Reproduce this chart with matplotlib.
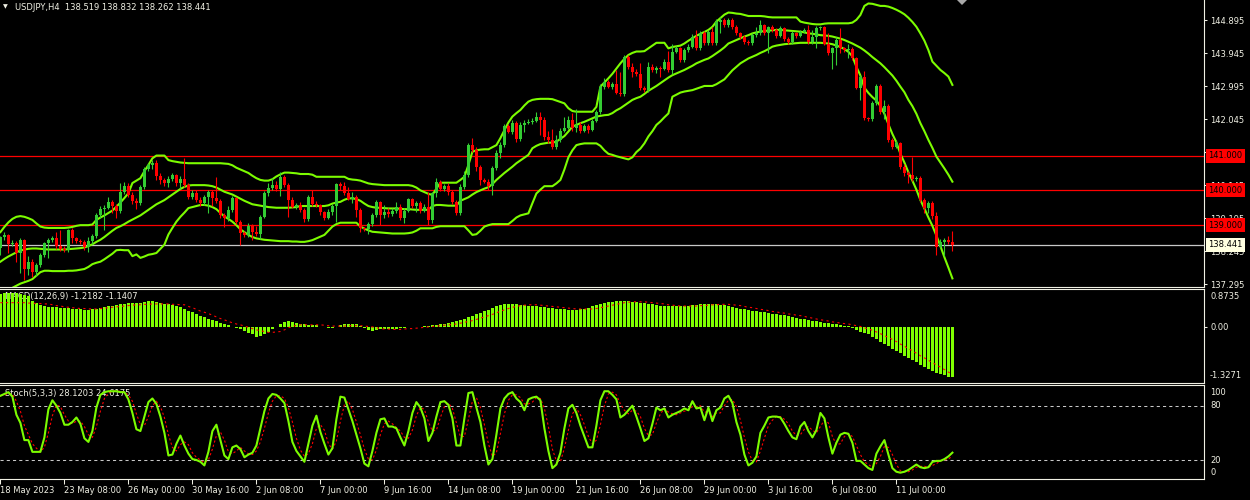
import numpy as np
import matplotlib
matplotlib.use('Agg')
import matplotlib.pyplot as plt
from matplotlib.patches import Polygon
from matplotlib.transforms import blended_transform_factory

plt.rcParams['font.family'] = ['DejaVu Sans']
plt.rcParams['font.size'] = 6

# ---- data -------------------------------------------------------------
title = 'USDJPY,H4  138.519 138.832 138.262 138.441'
macd_title = 'MACD(12,26,9) -1.2182 -1.1407'
stoch_title = 'Stoch(5,3,3) 28.1203 24.6175'

first_open = 138.35
close = [
    138.65, 138.72, 138.45, 138.50, 138.20, 138.58, 137.75, 137.95, 137.65, 137.85,
    138.14, 138.48, 138.58, 138.62, 138.40, 138.32, 138.28, 138.85, 138.62, 138.55,
    138.52, 138.38, 138.55, 138.70, 139.30, 139.46, 139.50, 139.66, 139.55, 139.40,
    139.95, 140.12, 139.88, 139.70, 139.64, 140.10, 140.62, 140.72, 140.78, 140.40,
    140.30, 140.20, 140.34, 140.44, 140.22, 140.34, 140.15, 139.82, 139.93, 139.72,
    139.63, 139.80, 139.96, 139.77, 139.70, 139.29, 139.20, 139.43, 139.77, 139.10,
    138.77, 138.72, 138.97, 138.81, 138.75, 139.24, 139.91, 140.06, 140.15, 140.05,
    140.39, 140.15, 139.72, 139.53, 139.58, 139.44, 139.18, 139.80, 139.62, 139.58,
    139.37, 139.22, 139.37, 139.55, 140.18, 140.12, 139.91, 139.74, 139.82, 139.44,
    138.91, 138.88, 139.03, 139.29, 139.67, 139.29, 139.39, 139.32, 139.42, 139.53,
    139.20, 139.42, 139.74, 139.55, 139.65, 139.42, 139.53, 139.15, 139.91, 140.25,
    140.03, 140.12, 139.96, 139.67, 139.34, 140.11, 140.44, 141.30, 141.16, 140.66,
    140.30, 140.25, 140.12, 140.63, 141.06, 141.30, 141.86, 141.69, 141.94, 141.47,
    141.88, 141.94, 141.97, 142.00, 142.12, 142.02, 141.54, 141.45, 141.26, 141.45,
    141.72, 141.80, 142.02, 141.78, 141.88, 141.72, 141.85, 141.74, 142.00, 142.26,
    142.98, 143.12, 142.96, 143.05, 142.81, 142.76, 143.84, 143.55, 143.41, 143.34,
    142.93, 142.88, 143.55, 143.46, 143.51, 143.50, 143.70, 143.46, 143.99, 144.08,
    143.75, 144.03, 144.13, 144.42, 144.08, 144.53, 144.23, 144.56, 144.23, 144.85,
    144.90, 144.75, 144.90, 144.70, 144.51, 144.42, 144.27, 144.23, 144.46, 144.51,
    144.75, 144.51, 144.68, 144.61, 144.44, 144.66, 144.34, 144.27, 144.51, 144.44,
    144.56, 144.60, 144.27, 144.42, 144.66, 144.68, 144.22, 143.94, 144.08, 144.32,
    144.08, 144.03, 144.06, 143.79, 142.93, 143.27, 142.07, 142.04, 142.50, 143.00,
    142.26, 142.42, 141.45, 141.26, 141.35, 140.68, 140.49, 140.44, 140.32, 140.36,
    139.72, 139.48, 139.63, 139.26, 138.38, 138.53, 138.57, 138.519, 138.441,
]
high = [
    138.70, 138.80, 138.76, 138.56, 138.55, 138.63, 138.60, 138.10, 138.02, 137.90,
    138.20, 138.52, 138.62, 138.68, 138.81, 138.86, 138.40, 138.90, 138.92, 138.66,
    138.60, 138.57, 138.66, 138.75, 139.35, 139.55, 139.58, 139.80, 139.72, 139.62,
    140.20, 140.25, 140.20, 139.95, 139.78, 140.15, 140.68, 140.80, 140.86, 140.88,
    140.50, 140.36, 140.40, 140.50, 140.48, 140.40, 140.92, 140.22, 140.00, 140.02,
    139.80, 139.88, 140.02, 140.01, 140.39, 139.75, 139.35, 139.55, 139.84, 139.82,
    139.15, 138.82, 139.05, 139.02, 138.98, 139.30, 139.98, 140.20, 140.35, 140.28,
    140.52, 140.45, 140.20, 139.80, 139.64, 139.66, 139.50, 139.88, 140.01, 139.68,
    139.62, 139.42, 139.45, 139.62, 140.20, 140.25, 140.25, 140.10, 139.96, 139.87,
    139.48, 138.96, 139.08, 139.35, 139.72, 139.70, 139.58, 139.48, 139.50, 139.67,
    139.62, 139.48, 139.77, 139.77, 139.68, 139.70, 139.62, 139.96, 139.96, 140.35,
    140.30, 140.18, 140.20, 140.00, 139.72, 140.18, 140.55, 141.36, 141.50, 141.25,
    140.72, 140.35, 140.32, 140.70, 141.15, 141.38, 141.92, 141.92, 142.02, 142.00,
    141.95, 142.02, 142.05, 142.08, 142.26, 142.26, 142.12, 141.72, 141.75, 141.60,
    141.78, 142.10, 142.15, 142.22, 142.35, 141.95, 141.92, 141.90, 142.06, 142.32,
    143.05, 143.22, 143.18, 143.12, 143.45, 143.41, 143.90, 143.88, 143.65, 143.48,
    143.65, 143.00, 143.70, 143.62, 143.58, 143.56, 143.78, 144.00, 144.20, 144.15,
    144.12, 144.10, 144.20, 144.50, 144.62, 144.58, 144.58, 144.62, 144.70, 144.92,
    144.98, 144.95, 144.96, 144.96, 144.74, 144.56, 144.46, 144.32, 144.52, 144.70,
    144.90, 144.78, 144.72, 144.75, 144.66, 144.72, 144.70, 144.40, 144.58, 144.56,
    144.62, 144.66, 144.75, 144.60, 144.72, 144.72, 144.72, 144.51, 144.12, 144.40,
    144.66, 144.12, 144.22, 144.12, 143.84, 143.32, 143.42, 142.12, 142.58, 143.05,
    143.05, 142.60, 142.48, 141.50, 141.45, 141.40, 140.75, 140.55, 140.97, 140.42,
    140.40, 139.78, 139.68, 139.70, 139.38, 138.60, 138.64, 138.69, 138.832,
]
low = [
    138.14, 138.58, 138.19, 138.40, 137.95, 137.62, 137.42, 137.58, 137.50, 137.55,
    137.80, 138.08, 138.06, 138.52, 138.32, 138.26, 138.22, 138.24, 138.50, 138.48,
    138.47, 138.30, 138.22, 138.45, 138.62, 139.20, 138.86, 139.45, 139.35, 139.20,
    139.35, 139.90, 139.82, 139.62, 139.45, 139.58, 140.05, 140.55, 140.62, 140.30,
    140.18, 140.12, 140.10, 140.28, 140.12, 140.05, 140.10, 139.76, 139.75, 139.66,
    139.55, 139.58, 139.34, 139.55, 139.65, 139.20, 138.96, 139.12, 139.38, 139.02,
    138.43, 138.65, 138.66, 138.57, 138.70, 138.60, 139.20, 139.85, 140.00, 139.98,
    139.85, 140.10, 139.24, 139.48, 139.45, 139.38, 139.08, 139.12, 139.55, 139.52,
    139.30, 139.15, 139.18, 139.30, 139.10, 140.01, 139.87, 139.72, 139.63, 139.24,
    138.81, 138.82, 138.76, 138.98, 139.24, 139.00, 139.20, 139.24, 139.26, 139.34,
    139.16, 139.05, 139.38, 139.48, 139.39, 139.34, 139.38, 139.00, 139.05, 139.82,
    139.98, 139.98, 139.87, 139.60, 139.29, 139.30, 140.05, 140.38, 141.10, 140.55,
    140.15, 140.20, 140.01, 139.88, 140.58, 140.92, 141.25, 141.64, 141.62, 141.40,
    141.42, 141.68, 141.90, 141.92, 141.95, 141.59, 141.45, 141.35, 141.20, 141.20,
    141.40, 141.68, 141.75, 141.72, 141.68, 141.66, 141.68, 141.66, 141.70, 141.96,
    142.20, 142.92, 142.93, 142.90, 142.76, 142.70, 142.70, 143.48, 143.26, 143.28,
    142.88, 142.82, 142.84, 143.40, 143.38, 143.26, 143.45, 143.40, 143.34, 143.94,
    143.68, 143.70, 143.98, 144.08, 144.02, 144.02, 144.18, 144.18, 144.18, 144.18,
    144.51, 144.70, 144.70, 144.64, 144.45, 144.36, 144.20, 144.17, 144.18, 144.42,
    144.46, 144.45, 143.94, 144.55, 144.38, 144.40, 144.28, 144.20, 144.22, 144.38,
    144.40, 144.52, 144.22, 144.22, 144.08, 144.60, 144.18, 143.90, 143.50, 143.60,
    143.94, 143.98, 143.80, 143.74, 142.90, 142.60, 142.02, 141.98, 142.00, 142.45,
    142.20, 142.05, 141.40, 141.20, 141.22, 140.62, 140.40, 140.20, 140.26, 140.28,
    139.66, 139.35, 139.34, 139.18, 138.14, 138.34, 138.10, 138.46, 138.262,
]

bb_upper = [
    138.80, 138.95, 139.08, 139.18, 139.24, 139.26, 139.24, 139.20, 139.15, 139.05,
    138.96, 138.93, 138.92, 138.92, 138.92, 138.92, 138.92, 138.93, 138.95, 138.98,
    139.00, 139.00, 139.00, 139.02, 139.15, 139.22, 139.28, 139.35, 139.42, 139.53,
    139.65, 139.78, 139.92, 140.21, 140.28, 140.35, 140.55, 140.73, 140.92, 141.00,
    141.00, 141.00, 140.87, 140.84, 140.82, 140.80, 140.79, 140.78, 140.78, 140.78,
    140.78, 140.78, 140.78, 140.78, 140.78, 140.78, 140.77, 140.76, 140.72, 140.65,
    140.60, 140.55, 140.50, 140.42, 140.35, 140.30, 140.28, 140.28, 140.32, 140.40,
    140.46, 140.51, 140.51, 140.50, 140.49, 140.47, 140.47, 140.47, 140.45, 140.39,
    140.39, 140.39, 140.39, 140.39, 140.39, 140.39, 140.39, 140.33, 140.31, 140.30,
    140.28, 140.24, 140.20, 140.18, 140.17, 140.16, 140.15, 140.15, 140.15, 140.15,
    140.15, 140.15, 140.15, 140.13, 140.08, 140.00, 139.95, 139.90, 139.87, 140.05,
    140.22, 140.22, 140.22, 140.22, 140.22, 140.30, 140.39, 140.73, 141.11, 141.15,
    141.17, 141.18, 141.18, 141.24, 141.30, 141.50, 141.73, 141.95, 142.12, 142.22,
    142.31, 142.44, 142.55, 142.60, 142.62, 142.63, 142.63, 142.63, 142.62, 142.58,
    142.54, 142.50, 142.36, 142.28, 142.26, 142.26, 142.26, 142.26, 142.26, 142.40,
    142.98, 143.10, 143.22, 143.35, 143.50, 143.65, 143.78, 143.89, 143.95, 143.99,
    143.99, 144.00, 144.08, 144.16, 144.24, 144.24, 144.24, 144.08, 144.12, 144.14,
    144.16, 144.22, 144.30, 144.37, 144.44, 144.50, 144.55, 144.61, 144.70, 144.85,
    144.95, 145.05, 145.11, 145.10, 145.08, 145.07, 145.04, 145.01, 145.01, 145.01,
    145.01, 145.00, 144.98, 144.97, 144.97, 144.97, 144.97, 144.97, 144.97, 144.97,
    144.85, 144.82, 144.80, 144.78, 144.77, 144.77, 144.79, 144.80, 144.80, 144.80,
    144.80, 144.80, 144.80, 144.82, 144.90, 145.04, 145.30, 145.37, 145.36, 145.33,
    145.30, 145.30, 145.28, 145.24, 145.19, 145.13, 145.06, 144.96, 144.84, 144.70,
    144.51, 144.30, 144.03, 143.70, 143.58, 143.46, 143.37, 143.27, 143.03,
]
bb_mid = [
    137.95, 138.03, 138.10, 138.16, 138.22, 138.27, 138.30, 138.32, 138.33, 138.33,
    138.32, 138.31, 138.30, 138.30, 138.30, 138.30, 138.30, 138.31, 138.32, 138.33,
    138.34, 138.36, 138.40, 138.45, 138.52, 138.58, 138.66, 138.75, 138.84, 138.92,
    138.97, 139.03, 139.10, 139.16, 139.22, 139.28, 139.36, 139.44, 139.52, 139.60,
    139.66, 139.72, 139.80, 139.88, 139.96, 140.04, 140.10, 140.14, 140.15, 140.15,
    140.15, 140.15, 140.14, 140.12, 140.08, 140.02, 139.96, 139.92, 139.88, 139.82,
    139.76, 139.70, 139.65, 139.60, 139.58, 139.56, 139.54, 139.52, 139.51, 139.50,
    139.50, 139.50, 139.50, 139.51, 139.52, 139.55, 139.55, 139.55, 139.55, 139.55,
    139.55, 139.55, 139.57, 139.62, 139.65, 139.67, 139.73, 139.77, 139.77, 139.75,
    139.70, 139.62, 139.55, 139.52, 139.50, 139.50, 139.49, 139.48, 139.48, 139.48,
    139.47, 139.46, 139.46, 139.45, 139.44, 139.44, 139.44, 139.44, 139.55, 139.58,
    139.58, 139.57, 139.56, 139.56, 139.56, 139.70, 139.75, 139.80, 139.88, 139.95,
    140.00, 140.05, 140.09, 140.18, 140.30, 140.40, 140.50, 140.59, 140.68, 140.78,
    140.86, 140.94, 141.02, 141.21, 141.28, 141.33, 141.35, 141.37, 141.37, 141.40,
    141.48, 141.56, 141.69, 141.83, 141.88, 141.93, 141.97, 142.02, 142.07, 142.12,
    142.14, 142.16, 142.17, 142.22, 142.30, 142.36, 142.44, 142.52, 142.60, 142.65,
    142.69, 142.77, 142.86, 142.93, 143.00, 143.08, 143.16, 143.24, 143.31, 143.36,
    143.41, 143.46, 143.52, 143.58, 143.65, 143.70, 143.75, 143.79, 143.86, 143.94,
    144.02, 144.11, 144.22, 144.27, 144.32, 144.37, 144.42, 144.46, 144.51, 144.54,
    144.56, 144.58, 144.59, 144.60, 144.61, 144.61, 144.60, 144.59, 144.58, 144.57,
    144.56, 144.54, 144.51, 144.50, 144.48, 144.46, 144.45, 144.44, 144.42, 144.39,
    144.36, 144.32, 144.27, 144.22, 144.16, 144.10, 144.02, 143.93, 143.83, 143.74,
    143.65, 143.54, 143.42, 143.30, 143.15, 142.98, 142.82, 142.60, 142.42, 142.20,
    141.93, 141.70, 141.45, 141.22, 140.97, 140.80, 140.63, 140.45, 140.25,
]
bb_lower = [
    137.10, 137.12, 137.15, 137.20, 137.26, 137.32, 137.36, 137.40, 137.45, 137.55,
    137.65, 137.69, 137.69, 137.68, 137.68, 137.68, 137.68, 137.69, 137.69, 137.70,
    137.72, 137.74, 137.80, 137.88, 137.92, 137.95, 138.02, 138.10, 138.18, 138.28,
    138.29, 138.28, 138.28, 138.11, 138.16, 138.06, 138.10, 138.15, 138.17, 138.20,
    138.32, 138.44, 138.73, 138.92, 139.10, 139.24, 139.36, 139.49, 139.52, 139.55,
    139.58, 139.58, 139.56, 139.52, 139.46, 139.35, 139.25, 139.18, 139.10, 139.00,
    138.88, 138.80, 138.72, 138.66, 138.62, 138.60, 138.58, 138.57, 138.56, 138.55,
    138.54, 138.54, 138.54, 138.53, 138.53, 138.52, 138.52, 138.54, 138.57, 138.62,
    138.67, 138.72, 138.84, 138.96, 139.03, 139.07, 139.07, 139.07, 139.07, 139.07,
    138.96, 138.90, 138.85, 138.81, 138.80, 138.79, 138.78, 138.77, 138.76, 138.76,
    138.76, 138.76, 138.77, 138.79, 138.84, 138.91, 138.91, 138.91, 138.91, 138.95,
    138.97, 138.97, 138.97, 138.97, 138.97, 138.97, 138.97, 138.85, 138.72, 138.74,
    138.84, 138.96, 139.00, 139.03, 139.03, 139.03, 139.03, 139.03, 139.12, 139.22,
    139.28, 139.31, 139.34, 139.63, 139.91, 140.02, 140.12, 140.12, 140.12, 140.20,
    140.30, 140.60, 140.95, 141.15, 141.30, 141.33, 141.35, 141.35, 141.35, 141.35,
    141.28, 141.15, 141.05, 141.02, 140.98, 140.95, 140.92, 140.89, 140.95, 141.10,
    141.20, 141.35, 141.55, 141.70, 141.88, 141.98, 142.10, 142.21, 142.69, 142.75,
    142.81, 142.84, 142.86, 142.88, 142.92, 142.96, 143.00, 143.00, 143.00, 143.05,
    143.12, 143.19, 143.32, 143.45, 143.55, 143.65, 143.72, 143.79, 143.84, 143.89,
    143.95, 144.00, 144.06, 144.13, 144.16, 144.18, 144.20, 144.21, 144.22, 144.23,
    144.24, 144.24, 144.24, 144.24, 144.24, 144.24, 144.23, 144.22, 144.20, 144.16,
    144.12, 144.06, 143.98, 143.85, 143.55, 143.30, 142.95, 142.80, 142.68, 142.58,
    142.42, 142.20, 141.90, 141.62, 141.38, 141.05, 140.80, 140.52, 140.28, 140.02,
    139.72, 139.48, 139.22, 138.98, 138.70, 138.40, 138.08, 137.78, 137.47,
]

macd_hist = [
    0.78, 0.80, 0.80, 0.80, 0.79, 0.78, 0.76, 0.74, 0.62, 0.57,
    0.52, 0.48, 0.46, 0.46, 0.46, 0.45, 0.45, 0.44, 0.43, 0.42,
    0.41, 0.40, 0.40, 0.41, 0.42, 0.44, 0.46, 0.48, 0.50, 0.52,
    0.54, 0.55, 0.56, 0.56, 0.56, 0.57, 0.58, 0.60, 0.60, 0.59,
    0.57, 0.55, 0.53, 0.52, 0.50, 0.47, 0.42, 0.38, 0.34, 0.30,
    0.26, 0.23, 0.19, 0.16, 0.12, 0.08, 0.06, 0.03, -0.01, -0.04,
    -0.06, -0.10, -0.15, -0.19, -0.24, -0.22, -0.17, -0.12, -0.06, 0.00,
    0.06, 0.10, 0.12, 0.10, 0.08, 0.06, 0.05, 0.04, 0.04, 0.03,
    -0.01, -0.02, -0.03, -0.03, -0.02, 0.03, 0.06, 0.07, 0.07, 0.05,
    0.01, -0.04, -0.08, -0.10, -0.09, -0.07, -0.06, -0.06, -0.05, -0.05,
    -0.04, -0.03, -0.02, -0.01, -0.01, 0.00, 0.01, 0.02, 0.03, 0.04,
    0.05, 0.06, 0.08, 0.10, 0.12, 0.15, 0.18, 0.22, 0.26, 0.30,
    0.33, 0.36, 0.40, 0.44, 0.48, 0.51, 0.53, 0.54, 0.54, 0.53,
    0.52, 0.51, 0.50, 0.49, 0.48, 0.47, 0.46, 0.45, 0.44, 0.43,
    0.42, 0.41, 0.40, 0.40, 0.40, 0.41, 0.43, 0.45, 0.48, 0.51,
    0.54, 0.56, 0.58, 0.59, 0.60, 0.61, 0.61, 0.60, 0.59, 0.58,
    0.57, 0.56, 0.54, 0.53, 0.51, 0.50, 0.49, 0.48, 0.48, 0.48,
    0.48, 0.49, 0.50, 0.51, 0.52, 0.53, 0.54, 0.54, 0.54, 0.53,
    0.52, 0.51, 0.49, 0.47, 0.45, 0.43, 0.41, 0.40, 0.38, 0.37,
    0.35, 0.34, 0.32, 0.31, 0.30, 0.28, 0.27, 0.25, 0.23, 0.21,
    0.19, 0.17, 0.15, 0.13, 0.12, 0.10, 0.09, 0.08, 0.06, 0.05,
    0.04, 0.02, 0.01, -0.03, -0.08, -0.12, -0.16, -0.19, -0.24, -0.30,
    -0.36, -0.42, -0.47, -0.53, -0.58, -0.64, -0.70, -0.76, -0.81, -0.86,
    -0.92, -0.97, -1.02, -1.06, -1.10, -1.14, -1.17, -1.20, -1.2182,
]
macd_signal = [
    0.57, 0.57, 0.57, 0.57, 0.57, 0.57, 0.57, 0.56, 0.56, 0.55,
    0.55, 0.54, 0.54, 0.52, 0.50, 0.49, 0.47, 0.46, 0.45, 0.44,
    0.43, 0.43, 0.42, 0.42, 0.42, 0.43, 0.44, 0.45, 0.46, 0.47,
    0.48, 0.49, 0.50, 0.51, 0.52, 0.52, 0.53, 0.53, 0.54, 0.54,
    0.54, 0.54, 0.54, 0.53, 0.53, 0.52, 0.52, 0.48, 0.45, 0.41,
    0.37, 0.34, 0.31, 0.27, 0.23, 0.19, 0.16, 0.12, 0.09, 0.06,
    0.04, 0.01, -0.02, -0.05, -0.08, -0.10, -0.12, -0.14, -0.14, -0.13,
    -0.12, -0.08, -0.03, 0.00, 0.03, 0.04, 0.04, 0.04, 0.04, 0.04,
    0.04, 0.03, 0.02, 0.01, 0.01, 0.01, 0.01, 0.02, 0.02, 0.02,
    0.02, 0.01, 0.00, -0.01, -0.03, -0.05, -0.06, -0.06, -0.07, -0.07,
    -0.07, -0.06, -0.05, -0.05, -0.04, -0.03, -0.02, -0.01, 0.00, 0.01,
    0.02, 0.03, 0.04, 0.05, 0.06, 0.08, 0.10, 0.12, 0.14, 0.17,
    0.20, 0.23, 0.26, 0.29, 0.33, 0.36, 0.40, 0.43, 0.46, 0.48,
    0.50, 0.51, 0.52, 0.52, 0.52, 0.51, 0.50, 0.49, 0.48, 0.47,
    0.46, 0.45, 0.44, 0.43, 0.42, 0.42, 0.42, 0.42, 0.42, 0.43,
    0.45, 0.47, 0.49, 0.51, 0.53, 0.55, 0.57, 0.58, 0.59, 0.59,
    0.59, 0.59, 0.58, 0.57, 0.56, 0.55, 0.54, 0.52, 0.51, 0.50,
    0.49, 0.49, 0.49, 0.49, 0.49, 0.50, 0.50, 0.51, 0.52, 0.52,
    0.53, 0.53, 0.53, 0.52, 0.51, 0.50, 0.48, 0.46, 0.45, 0.43,
    0.41, 0.40, 0.38, 0.36, 0.35, 0.33, 0.32, 0.30, 0.29, 0.27,
    0.26, 0.24, 0.22, 0.20, 0.18, 0.16, 0.15, 0.13, 0.11, 0.10,
    0.08, 0.07, 0.06, 0.04, 0.02, 0.00, -0.03, -0.06, -0.09, -0.13,
    -0.17, -0.22, -0.26, -0.31, -0.36, -0.42, -0.47, -0.53, -0.58, -0.64,
    -0.70, -0.75, -0.81, -0.86, -0.92, -0.97, -1.03, -1.09, -1.1407,
]

stoch_k = [
    91, 93, 95, 90, 70, 61, 42, 42, 29, 29,
    29, 45, 76, 86, 80, 72, 59, 59, 62, 67,
    60, 44, 40, 52, 78, 92, 95, 96, 96, 96,
    95, 95, 87, 72, 54, 52, 68, 84, 88, 82,
    68, 50, 25, 26, 38, 47, 36, 27, 21, 20,
    18, 14, 29, 52, 59, 42, 25, 21, 34, 36,
    32, 23, 26, 28, 36, 55, 74, 88, 93, 92,
    88, 83, 63, 40, 30, 24, 18, 38, 58, 69,
    51, 38, 26, 33, 65, 90, 89, 76, 63, 48,
    33, 16, 13, 30, 50, 65, 66, 57, 57, 55,
    45, 36, 52, 72, 84, 78, 66, 41, 50, 68,
    84, 85, 81, 66, 36, 36, 66, 94, 95, 78,
    62, 36, 15, 21, 48, 77, 88, 93, 95, 88,
    84, 75, 87, 89, 90, 86, 55, 30, 11, 15,
    28, 55, 77, 81, 72, 58, 46, 34, 34, 58,
    86, 96, 96, 92, 87, 67, 70, 75, 80, 68,
    55, 41, 44, 60, 78, 75, 77, 67, 70, 72,
    74, 77, 75, 85, 77, 78, 64, 78, 63, 75,
    78, 88, 91, 83, 62, 48, 26, 14, 17, 24,
    50, 58, 67, 68, 68, 67, 60, 52, 45, 43,
    57, 62, 52, 45, 53, 72, 66, 45, 27, 39,
    48, 50, 49, 39, 19, 19, 15, 11, 9, 27,
    35, 42, 26, 11, 7, 6, 7, 9, 12, 15,
    12, 11, 12, 18, 19, 19, 21, 24, 28.12,
]
stoch_d = [
    91, 92, 93, 93, 85, 74, 58, 48, 38, 33,
    29, 34, 50, 69, 81, 79, 70, 63, 60, 63,
    63, 57, 48, 45, 57, 74, 88, 94, 96, 96,
    96, 95, 92, 85, 71, 59, 58, 68, 80, 85,
    79, 67, 48, 34, 30, 37, 40, 37, 28, 23,
    20, 17, 20, 32, 47, 51, 42, 29, 27, 30,
    34, 30, 27, 26, 30, 40, 55, 72, 85, 91,
    91, 88, 78, 62, 44, 31, 24, 27, 38, 55,
    59, 53, 38, 32, 41, 63, 81, 85, 76, 62,
    48, 32, 21, 20, 31, 48, 60, 63, 60, 56,
    52, 45, 44, 53, 69, 78, 76, 62, 52, 53,
    67, 79, 83, 77, 61, 46, 46, 65, 85, 89,
    78, 59, 38, 24, 28, 49, 71, 86, 92, 92,
    89, 82, 82, 84, 89, 88, 77, 57, 32, 19,
    18, 33, 53, 71, 77, 70, 59, 46, 38, 42,
    59, 80, 93, 95, 92, 82, 75, 71, 75, 74,
    68, 55, 47, 48, 61, 71, 77, 73, 71, 70,
    72, 74, 75, 79, 79, 80, 73, 73, 68, 72,
    72, 80, 86, 87, 79, 64, 45, 29, 19, 18,
    30, 44, 58, 64, 68, 68, 65, 60, 52, 47,
    48, 54, 57, 53, 50, 57, 64, 61, 46, 37,
    38, 46, 49, 46, 36, 26, 18, 15, 12, 16,
    24, 35, 34, 26, 15, 8, 7, 7, 9, 12,
    13, 13, 12, 14, 16, 19, 20, 21, 24.62,
]

price_ticks = [144.895, 143.945, 142.995, 142.045, 141.095, 140.145, 139.195, 138.245, 137.295]
level_lines = [141.0, 140.0, 139.0]
last_price = 138.441
time_labels = ['18 May 2023', '23 May 08:00', '26 May 00:00', '30 May 16:00', '2 Jun 08:00',
               '7 Jun 00:00', '9 Jun 16:00', '14 Jun 08:00', '19 Jun 00:00', '21 Jun 16:00',
               '26 Jun 08:00', '29 Jun 00:00', '3 Jul 16:00', '6 Jul 08:00', '11 Jul 00:00']
label_every = 16  # bars between time labels

# ---- styling ----------------------------------------------------------
BG = 'black'
FG = '#F0F0E4'
BAND = '#7CFC00'
BULL = '#33CC33'
BEAR = '#FF0000'

W, H = 1250, 500
fig = plt.figure(figsize=(W / 100, H / 100), dpi=100, facecolor=BG)


def px_axes(x0, y0, x1, y1):
    ax = fig.add_axes([x0 / W, 1 - y1 / H, (x1 - x0) / W, (y1 - y0) / H])
    ax.set_facecolor(BG)
    for s in ax.spines.values():
        s.set_color(FG)
        s.set_linewidth(0.8)
    ax.spines['left'].set_visible(False)
    ax.set_xlim(-0.1, 300.9)
    ax.set_xticks([])
    ax.yaxis.tick_right()
    ax.tick_params(axis='y', colors=FG, length=2.5, width=0.75, pad=2, labelsize=6)
    return ax


ax = px_axes(0, 0, 1204, 287)
ax_m = px_axes(0, 289, 1204, 383)
ax_s = px_axes(0, 385, 1204, 479)
ax.spines['top'].set_visible(False)

x = np.arange(len(close))
c = np.array(close)
o = np.r_[first_open, c[:-1]]
hi = np.array(high)
lo = np.array(low)
up = c >= o
cols = np.where(up, BULL, BEAR)

# ---- main chart -------------------------------------------------------
ax.set_ylim(137.223, 145.470)
for lv in level_lines:
    ax.axhline(lv, color='#FF0000', lw=0.9, zorder=1)
ax.axhline(last_price, color='#C8C8C8', lw=0.9, zorder=1)

ax.plot(x, bb_upper, color=BAND, lw=1.5, zorder=2)
ax.plot(x, bb_mid, color=BAND, lw=1.5, zorder=2)
ax.plot(x, bb_lower, color=BAND, lw=1.5, zorder=2)

ax.vlines(x, lo, hi, colors=cols, lw=0.8, zorder=3)
ax.bar(x, np.maximum(np.abs(c - o), 0.025), bottom=np.minimum(c, o), width=0.72,
       color=cols, linewidth=0, zorder=3)

ax.set_yticks(price_ticks)
ax.set_yticklabels(['%.3f' % t for t in price_ticks])

tr = blended_transform_factory(ax.transAxes, ax.transData)
for lv in level_lines:
    ax.text(1.0035, lv, '%.3f' % lv, transform=tr, ha='left', va='center', color='black',
            fontsize=6, zorder=5, clip_on=False,
            bbox=dict(boxstyle='square,pad=0.3', fc='#FF0000', ec='none'))
ax.text(1.0035, last_price, '%.3f' % last_price, transform=tr, ha='left', va='center',
        color='black', fontsize=6, zorder=5, clip_on=False,
        bbox=dict(boxstyle='square,pad=0.3', fc='#FFFFE0', ec='none'))

fig.text(3 / W, 1 - 7 / H, '\u25bc', color=FG, fontsize=4.5, ha='left', va='center')
fig.text(15 / W, 1 - 7 / H, title, color=FG, fontsize=6, ha='left', va='center')
# chart-shift marker at the top edge
fig.patches.append(Polygon([(957 / W, 1.0), (967 / W, 1.0), (962 / W, 1 - 5 / H)],
                           closed=True, fc='#A8A8A8', ec='none',
                           transform=fig.transFigure, figure=fig))

# ---- MACD -------------------------------------------------------------
ax_m.set_ylim(-1.351, 0.897)
ax_m.bar(x, macd_hist, width=0.7, color='#7FFF00', linewidth=0, zorder=2)
ax_m.plot(x, macd_signal, color='#FF0000', lw=0.8, ls=(0, (2, 3)), zorder=3)
ax_m.set_yticks([0])
ax_m.set_yticklabels(['0.00'])
trm = blended_transform_factory(ax_m.transAxes, ax_m.transData)
ax_m.text(1.005, 0.72, '0.8735', transform=trm, color=FG, fontsize=6, va='center', ha='left')
ax_m.text(1.005, -1.165, '-1.3271', transform=trm, color=FG, fontsize=6, va='center', ha='left')
ax_m.text(5 / 1204, 0.725, macd_title, transform=trm, color=FG, fontsize=6,
          va='center', ha='left', zorder=1)

# ---- Stochastic -------------------------------------------------------
ax_s.set_ylim(-1, 102.9)
for lv in (80, 20):
    ax_s.axhline(lv, color='#C8C8C8', lw=0.75, ls=(0, (3, 3)), zorder=1)
ax_s.plot(x, stoch_d, color='#FF0000', lw=0.8, ls=(0, (2, 2)), zorder=2)
ax_s.plot(x, stoch_k, color=BAND, lw=1.5, zorder=3)
ax_s.set_yticks([])
trs = blended_transform_factory(ax_s.transAxes, ax_s.transData)
for val, txt in ((95, '100'), (80, '80'), (20, '20'), (6, '0')):
    ax_s.text(1.005, val, txt, transform=trs, color=FG, fontsize=6, va='center', ha='left')
ax_s.text(5 / 1204, 93, stoch_title, transform=trs, color=FG, fontsize=6,
          va='center', ha='left', zorder=1.5)

ticks = np.arange(len(time_labels)) * label_every
ax_s.set_xticks(ticks)
ax_s.set_xticklabels(time_labels, ha='left')
ax_s.tick_params(axis='x', colors=FG, length=3.5, width=0.75, pad=1.5, labelsize=6)

fig.savefig('out.png', dpi=100, facecolor=BG)
